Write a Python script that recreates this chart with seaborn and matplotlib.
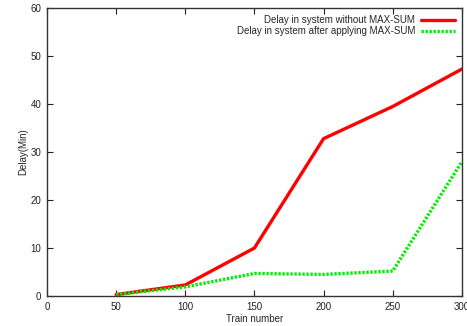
import matplotlib
matplotlib.use('Agg')
import matplotlib.pyplot as plt
import seaborn as sns
import pandas as pd

# data
trains = [50, 100, 150, 200, 250, 300]
delay_without = [0.3, 2.3, 10.0, 32.8, 39.5, 47.3]
delay_with = [0.3, 1.9, 4.7, 4.5, 5.2, 28.0]
label_without = 'Delay in system without MAX-SUM'
label_with = 'Delay in system after applying MAX-SUM'

sns.set_style('ticks')
plt.rcParams['font.family'] = ['Liberation Sans', 'DejaVu Sans']

df = pd.DataFrame({'train': trains + trains,
                   'delay': delay_without + delay_with,
                   'series': [label_without] * len(trains) + [label_with] * len(trains)})

fig = plt.figure(figsize=(4.67, 3.26), dpi=100)
ax = fig.add_axes([0.1006, 0.092, 0.8884, 0.883])

sns.lineplot(data=df[df['series'] == label_without], x='train', y='delay',
             color='#ff0000', linewidth=2.4, ax=ax, label=label_without)
sns.lineplot(data=df[df['series'] == label_with], x='train', y='delay',
             color='#00ee00', linewidth=2.4, linestyle=(0, (0.7, 0.5)), ax=ax,
             label=label_with)

ax.set_xlim(0, 300)
ax.set_ylim(0, 60)
ax.set_xticks([0, 50, 100, 150, 200, 250, 300])
ax.set_yticks([0, 10, 20, 30, 40, 50, 60])
ax.tick_params(direction='in', top=True, right=True, labelsize=7, length=4,
               width=0.8, pad=4, colors='#222222')
for s in ax.spines.values():
    s.set_linewidth(1)
    s.set_color('#333333')
    s.set_visible(True)
ax.set_xlabel('Train number', fontsize=7, labelpad=2)
ax.set_ylabel('Delay(Min)', fontsize=7, labelpad=2)

leg = ax.legend(loc='upper right', frameon=False, fontsize=7, markerfirst=False,
                handlelength=3.5, borderaxespad=0.3, labelspacing=0.15,
                handletextpad=0.6)
for t in leg.get_texts():
    t.set_ha('right')

fig.savefig('out.png', dpi=100)
